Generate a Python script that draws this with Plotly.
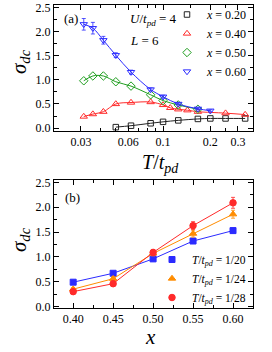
import math
import plotly.graph_objects as go

# ---------- panel (a) data ----------
T_blue = [1/32, 1/28, 1/24, 1/20, 1/16, 1/12, 1/10, 1/8, 1/6, 1/5]
s_blue = [2.15, 2.07, 1.82, 1.51, 1.16, 0.80, 0.65, 0.50, 0.40, 0.36]
e_blue = [0.12, 0.12, 0.08, 0.05, 0.04, 0.03, 0.03, 0.02, 0.02, 0.02]

T_green = [1/32, 1/28, 1/24, 1/20, 1/16, 1/12, 1/10, 1/8, 1/6]
s_green = [0.98, 1.08, 1.08, 0.96, 0.87, 0.69, 0.57, 0.48, 0.39]

T_red = [1/32, 1/28, 1/24, 1/20, 1/16, 1/12, 1/10, 1/9, 1/8, 1/7, 1/6, 1/4, 1/3]
s_red = [0.24, 0.29, 0.34, 0.50, 0.53, 0.54, 0.48, 0.42, 0.39, 0.37, 0.34, 0.31, 0.28]

T_black = [1/20, 1/16, 1/12, 1/10, 1/8, 1/6, 1/5, 1/4, 1/3]
s_black = [0.02, 0.05, 0.10, 0.13, 0.16, 0.19, 0.20, 0.20, 0.20]

labels_a = ["0.20", "0.40", "0.50", "0.60"]

# ---------- panel (b) data ----------
x_b = [0.40, 0.45, 0.50, 0.55, 0.60]
s_T20 = [0.49, 0.67, 0.96, 1.32, 1.53]
e_T20 = [0.02, 0.03, 0.04, 0.05, 0.05]
s_T24 = [0.35, 0.56, 1.07, 1.47, 1.86]
e_T24 = [0.03, 0.04, 0.05, 0.07, 0.08]
s_T28 = [0.30, 0.46, 1.09, 1.63, 2.09]
e_T28 = [0.04, 0.05, 0.06, 0.08, 0.11]
labels_b = ["1/20", "1/24", "1/28"]

FONT = "Liberation Serif, Times New Roman, serif"
BLUE = "#2b2bff"
RED = "#ff2a2a"
GREEN = "#1f9e1f"
ORANGE = "#ff8c00"
BLACK = "#222222"

fig = go.Figure()

def add_series(x, s, color, symbol, name, xa, ya, leg, err=None, spline=False, size=6):
    # connecting curve (no legend entry)
    fig.add_trace(go.Scatter(
        x=x, y=s, mode="lines", line=dict(color=color, width=1, shape="spline" if spline else "linear"),
        showlegend=False, hoverinfo="skip", xaxis=xa, yaxis=ya))
    # data markers (legend entry)
    fig.add_trace(go.Scatter(
        x=x, y=s, mode="markers",
        marker=dict(symbol=symbol, size=size, color=color, line=dict(color=color, width=1)),
        error_y=dict(type="data", array=err, color=color, thickness=0.8, width=2, visible=err is not None),
        name=name, xaxis=xa, yaxis=ya, legend=leg))

add_series(T_black, s_black, BLACK, "square-open", "<i>x</i> = " + labels_a[0], "x", "y", "legend", spline=True, size=5.5)
add_series(T_red, s_red, RED, "triangle-up-open", "<i>x</i> = " + labels_a[1], "x", "y", "legend", spline=True, size=6.5)
add_series(T_green, s_green, GREEN, "diamond-open", "<i>x</i> = " + labels_a[2], "x", "y", "legend", spline=True, size=6.5)
add_series(T_blue, s_blue, BLUE, "triangle-down-open", "<i>x</i> = " + labels_a[3], "x", "y", "legend", err=e_blue, spline=True, size=6.5)

tname = "<i>T</i>/<i>t</i><sub><i>pd</i></sub> = "
add_series(x_b, s_T20, BLUE, "square", tname + labels_b[0], "x2", "y2", "legend2", err=e_T20, size=6)
add_series(x_b, s_T24, ORANGE, "triangle-up", tname + labels_b[1], "x2", "y2", "legend2", err=e_T24, size=6.5)
add_series(x_b, s_T28, RED, "circle", tname + labels_b[2], "x2", "y2", "legend2", err=e_T28, size=6.5)

W, H = 272, 352
axcommon = dict(showline=True, linecolor="black", linewidth=1, mirror="ticks",
                ticks="inside", ticklen=5, tickwidth=1, tickcolor="black",
                showgrid=False, zeroline=False, automargin=False,
                tickfont=dict(family=FONT, size=12, color="black"))
minor_common = dict(ticks="inside", ticklen=3, tickcolor="black", showgrid=False)

fig.update_layout(
    width=W, height=H, margin=dict(l=0, r=0, t=0, b=0, autoexpand=False),
    paper_bgcolor="white", plot_bgcolor="white",
    font=dict(family=FONT, color="black"),
    xaxis=dict(type="log", domain=[54/W, 253/W], anchor="y",
               range=[math.log10(0.0202), math.log10(0.374)],
               tickvals=[0.03, 0.06, 0.1, 0.2, 0.3], ticktext=["0.03", "0.06", "0.1", "0.2", "0.3"],
               minor=dict(tickvals=[0.04, 0.05, 0.07, 0.08, 0.09, 0.15, 0.25], **minor_common),
               **axcommon),
    yaxis=dict(domain=[1 - 131/H, 1 - 5/H], anchor="x", range=[-0.06, 2.55],
               tickvals=[0, 0.5, 1.0, 1.5, 2.0, 2.5], ticktext=["0.0", "0.5", "1.0", "1.5", "2.0", "2.5"],
               minor=dict(dtick=0.25, **minor_common),
               **axcommon),
    xaxis2=dict(domain=[54/W, 253/W], anchor="y2", range=[0.376, 0.625],
                tickvals=[0.40, 0.45, 0.50, 0.55, 0.60], ticktext=["0.40", "0.45", "0.50", "0.55", "0.60"],
                minor=dict(dtick=0.025, **minor_common),
                **axcommon),
    yaxis2=dict(domain=[1 - 308/H, 1 - 180/H], anchor="x2", range=[-0.03, 2.55],
                tickvals=[0, 0.5, 1.0, 1.5, 2.0, 2.5], ticktext=["0.0", "0.5", "1.0", "1.5", "2.0", "2.5"],
                minor=dict(dtick=0.25, **minor_common),
                **axcommon),
    legend=dict(x=167/W, y=1.0, xanchor="left", yanchor="top", bgcolor="rgba(0,0,0,0)",
                font=dict(family=FONT, size=12), itemwidth=30, tracegroupgap=0),
    legend2=dict(x=152/W, y=1 - 245/H, xanchor="left", yanchor="top", bgcolor="rgba(0,0,0,0)",
                 font=dict(family=FONT, size=11.5), itemwidth=30, tracegroupgap=0),
    showlegend=True,
)

ann = [
    dict(text="(a)", x=62/W, y=1 - 18/H, xanchor="left", yanchor="middle", font=dict(size=13)),
    dict(text="(b)", x=63/W, y=1 - 197/H, xanchor="left", yanchor="middle", font=dict(size=13)),
    dict(text="<i>U</i>/<i>t</i><sub><i>pd</i></sub> = 4", x=128/W, y=1 - 20/H, xanchor="left", yanchor="middle", font=dict(size=13)),
    dict(text="<i>L</i> = 6", x=128/W, y=1 - 41/H, xanchor="left", yanchor="middle", font=dict(size=13)),
    dict(text="<i>σ</i><sub><i>dc</i></sub>", x=20/W, y=1 - 62/H, textangle=-90, xanchor="center", yanchor="middle", font=dict(size=21)),
    dict(text="<i>σ</i><sub><i>dc</i></sub>", x=20/W, y=1 - 240/H, textangle=-90, xanchor="center", yanchor="middle", font=dict(size=21)),
    dict(text="<i>T</i>/<i>t</i><sub><i>pd</i></sub>", x=160/W, y=1 - 163/H, xanchor="center", yanchor="middle", font=dict(size=20)),
    dict(text="<i>x</i>", x=150/W, y=1 - 337/H, xanchor="center", yanchor="middle", font=dict(size=21)),
]
for a in ann:
    a.update(xref="paper", yref="paper", showarrow=False)
    a["font"].update(family=FONT, color="black")
fig.update_layout(annotations=ann)

fig.write_html("out.html", config={"displayModeBar": False},
               post_script="document.body.style.margin='0';document.body.style.padding='0';document.body.style.overflow='hidden';")
